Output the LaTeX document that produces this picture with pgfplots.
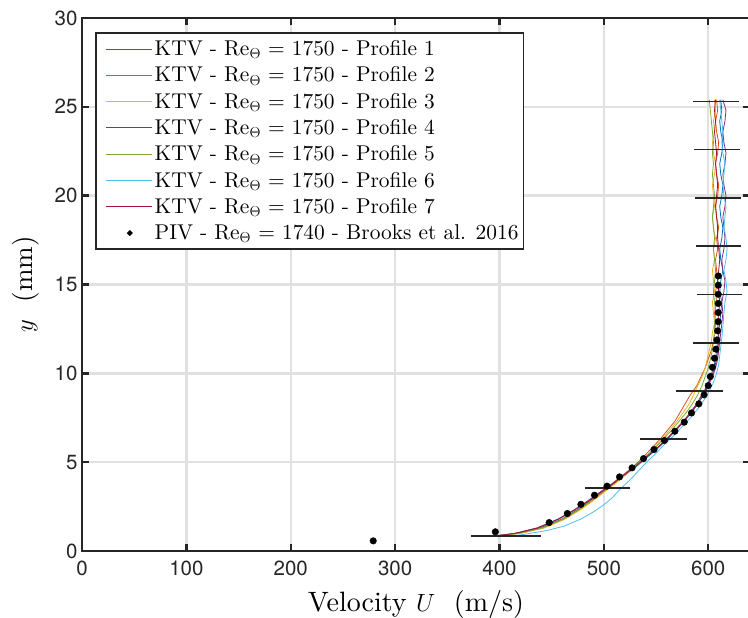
\documentclass[border=0pt]{standalone}
\usepackage{fontspec}
\setmainfont{lmroman10-regular.otf}[ItalicFont=lmroman10-italic.otf, BoldFont=lmroman10-bold.otf]
\setsansfont{TeX Gyre Heros}
\usepackage{pgfplots}
\pgfplotsset{compat=1.18}

\definecolor{c1}{RGB}{0,114,189}
\definecolor{c2}{RGB}{217,83,25}
\definecolor{c3}{RGB}{237,177,32}
\definecolor{c4}{RGB}{126,47,142}
\definecolor{c5}{RGB}{119,172,48}
\definecolor{c6}{RGB}{77,190,238}
\definecolor{c7}{RGB}{162,20,47}
\definecolor{axgray}{RGB}{38,38,38}
\definecolor{gridgray}{RGB}{225,225,225}

\pgfplotsset{
  ktv/.style={line width=0.8pt, mark=none,
    legend image code/.code={\path (0pt,0pt); \draw[##1] (6pt,0pt) -- (52pt,0pt);}},
  pivleg/.style={legend image code/.code={\path (0pt,0pt) (52pt,0pt); \fill[black] (30pt,0pt) circle (1.8pt);}},
}

\begin{document}
\begin{tikzpicture}
\begin{axis}[
  name=ax,
  scale only axis,
  width=668pt, height=533pt,
  xmin=0, xmax=640, ymin=0, ymax=30,
  xtick={0,100,...,600}, ytick={0,5,...,30},
  grid=major, grid style={gridgray, line width=2.4pt},
  axis line style={axgray, line width=2.6pt},
  tick align=inside, major tick length=7pt,
  tick style={axgray, line width=2.4pt},
  /pgf/number format/assume math mode=true,
  tick label style={font=\fontsize{20.5}{24}\selectfont\sffamily, text=axgray},
  xticklabel style={yshift=-6pt},
  yticklabel style={xshift=-1pt},
  xlabel={Velocity $U$\ \ (m/s)},
  ylabel={$y$\ \ (mm)},
  xlabel style={font=\fontsize{28}{32}\selectfont, at={(rel axis cs:0.5,0)}, anchor=center, yshift=-54pt},
  ylabel style={font=\fontsize{27}{32}\selectfont, at={(rel axis cs:0,0.5)}, anchor=center, yshift=56pt},
  legend style={at={(rel axis cs:0.0195,0.974)}, anchor=north west,
    font=\fontsize{21.4}{25}\selectfont, draw=axgray, line width=1.8pt,
    fill=white, inner sep=3pt,
    nodes={minimum height=26.3pt, inner sep=2pt}},
  legend cell align=left,
]
% KTV profiles
\addplot[ktv, c1] coordinates {(396,0.85)(417,1.0)(439,1.3)(460,1.8)(474,2.3)(486,2.8)(498,3.3)(510,3.8)(521,4.3)(532,4.8)(542,5.3)(552,5.8)(561,6.3)(569,6.8)(577,7.3)(584,7.8)(590,8.3)(595,8.8)(599,9.3)(602,9.8)(605,10.3)(607,10.8)(608,11.3)(609,11.8)(610,12.3)(611,12.8)(612,13.4)(613,14.0)(611,14.6)(612,15.2)(614,15.8)(612,16.4)(611,17.0)(613,17.6)(614,18.2)(612,18.8)(611,19.4)(613,20.0)(614,20.6)(612,21.2)(611,21.8)(613,22.4)(614,23.0)(612,23.6)(611,24.2)(613,24.8)(612,25.4)};
\addlegendentry{KTV - Re$_{\Theta}$ = 1750 - Profile 1}
\addplot[ktv, c2] coordinates {(397,0.85)(420,1.0)(442,1.3)(462,1.8)(476,2.3)(488,2.8)(499,3.3)(509,3.8)(519,4.3)(529,4.8)(538,5.3)(546,5.8)(554,6.3)(561,6.8)(568,7.3)(573,7.8)(578,8.3)(583,8.8)(589,9.3)(593,9.8)(597,10.3)(600,10.8)(603,11.3)(605,11.8)(606,12.3)(607,12.8)(606,13.4)(608,14.0)(607,14.6)(609,15.2)(608,15.8)(607,16.4)(609,17.0)(608,17.6)(610,18.2)(608,18.8)(607,19.4)(609,20.0)(610,20.6)(608,21.2)(607,21.8)(609,22.4)(610,23.0)(608,23.6)(607,24.2)(609,24.8)(608,25.4)};
\addlegendentry{KTV - Re$_{\Theta}$ = 1750 - Profile 2}
\addplot[ktv, c3] coordinates {(398,0.85)(421,1.0)(443,1.3)(463,1.8)(477,2.3)(489,2.8)(500,3.3)(511,3.8)(521,4.3)(531,4.8)(540,5.3)(548,5.8)(556,6.3)(563,6.8)(570,7.3)(576,7.8)(582,8.3)(586,8.8)(590,9.3)(594,9.8)(597,10.3)(599,10.8)(601,11.3)(603,11.8)(604,12.3)(606,12.8)(605,13.4)(604,14.0)(606,14.6)(605,15.2)(604,15.8)(606,16.4)(605,17.0)(607,17.6)(605,18.2)(604,18.8)(606,19.4)(605,20.0)(604,20.6)(606,21.2)(607,21.8)(605,22.4)(604,23.0)(606,23.6)(605,24.2)(607,24.8)(606,25.4)};
\addlegendentry{KTV - Re$_{\Theta}$ = 1750 - Profile 3}
\addplot[ktv, c4] coordinates {(396,0.85)(415,1.0)(436,1.3)(456,1.8)(471,2.3)(484,2.8)(496,3.3)(508,3.8)(519,4.3)(530,4.8)(541,5.3)(551,5.8)(560,6.3)(569,6.8)(577,7.3)(584,7.8)(590,8.3)(596,8.8)(600,9.3)(604,9.8)(607,10.3)(609,10.8)(610,11.3)(611,11.8)(612,12.3)(613,12.8)(614,13.4)(613,14.0)(615,14.6)(616,15.2)(614,15.8)(613,16.4)(615,17.0)(616,17.6)(615,18.2)(614,18.8)(616,19.4)(617,20.0)(615,20.6)(614,21.2)(616,21.8)(617,22.4)(615,23.0)(614,23.6)(616,24.2)(617,24.8)(614,25.4)};
\addlegendentry{KTV - Re$_{\Theta}$ = 1750 - Profile 4}
\addplot[ktv, c5] coordinates {(397,0.85)(419,1.0)(441,1.3)(461,1.8)(475,2.3)(487,2.8)(498,3.3)(509,3.8)(520,4.3)(530,4.8)(540,5.3)(549,5.8)(557,6.3)(565,6.8)(572,7.3)(579,7.8)(585,8.3)(590,8.8)(594,9.3)(597,9.8)(600,10.3)(602,10.8)(604,11.3)(605,11.8)(606,12.3)(606,12.8)(607,13.4)(606,14.0)(605,14.6)(606,15.2)(607,15.8)(606,16.4)(605,17.0)(606,17.6)(605,18.2)(604,18.8)(605,19.4)(606,20.0)(605,20.6)(604,21.2)(605,21.8)(604,22.4)(605,23.0)(604,23.6)(603,24.2)(602,24.8)(601,25.4)};
\addlegendentry{KTV - Re$_{\Theta}$ = 1750 - Profile 5}
\addplot[ktv, c6] coordinates {(398,0.8)(420,0.9)(445,1.15)(462,1.4)(478,1.8)(490,2.2)(500,2.6)(508,3.0)(516,3.5)(525,4.0)(533,4.5)(541,5.0)(550,5.5)(558,6.0)(567,6.5)(575,7.0)(583,7.5)(590,8.0)(596,8.5)(601,9.0)(605,9.5)(608,10.0)(610,10.5)(611,11.0)(612,11.5)(613,12.0)(614,12.6)(615,13.4)(616,14.0)(618,14.6)(617,15.2)(615,15.8)(617,16.4)(618,17.0)(617,17.6)(615,18.2)(616,18.8)(617,19.4)(615,20.0)(614,20.6)(615,21.2)(616,21.8)(614,22.4)(613,23.0)(614,23.6)(613,24.2)(612,24.8)(611,25.4)};
\addlegendentry{KTV - Re$_{\Theta}$ = 1750 - Profile 6}
\addplot[ktv, c7] coordinates {(397,0.85)(416,1.0)(437,1.3)(457,1.8)(472,2.3)(485,2.8)(497,3.3)(509,3.8)(520,4.3)(531,4.8)(541,5.3)(551,5.8)(560,6.3)(568,6.8)(576,7.3)(583,7.8)(589,8.3)(594,8.8)(599,9.3)(603,9.8)(606,10.3)(608,10.8)(609,11.3)(610,11.8)(610,12.3)(609,12.8)(610,13.4)(611,14.0)(610,14.6)(609,15.2)(610,15.8)(611,16.4)(610,17.0)(609,17.6)(609,18.2)(608,18.8)(607,19.4)(608,20.0)(609,20.6)(608,21.2)(607,21.8)(608,22.4)(607,23.0)(606,23.6)(607,24.2)(606,24.8)(607,25.4)};
\addlegendentry{KTV - Re$_{\Theta}$ = 1750 - Profile 7}
% error bars
\addplot[forget plot, draw=none, mark=none,
  error bars/.cd, x dir=both, x explicit, error mark=none,
  error bar style={draw=black!85, line width=1.6pt}]
  coordinates {
  (406,0.84) +- (33.5,0)
  (503.5,3.56) +- (22,0)
  (557,6.29) +- (22.4,0)
  (591.5,9.0) +- (22.2,0)
  (607.6,11.71) +- (22,0)
  (611,14.43) +- (21.5,0)
  (610,17.17) +- (21.5,0)
  (609,19.87) +- (22,0)
  (608,22.59) +- (22,0)
  (607.6,25.29) +- (22,0)
  };
% PIV
\addplot[only marks, mark=*, mark size=3.3pt, black, pivleg]
  coordinates {(279,0.57)(396,1.08)(447.6,1.60)(465,2.11)(478,2.63)(491,3.14)(503,3.65)(515,4.17)(527,4.68)(538,5.20)(548,5.71)(558,6.22)(568,6.74)(577,7.25)(584,7.77)(591,8.28)(596,8.79)(600,9.31)(602,9.82)(604,10.34)(606,10.85)(607.4,11.36)(608.3,11.88)(609,12.39)(609.6,12.91)(609.6,13.42)(609.6,13.93)(609.6,14.45)(609.6,14.96)(609.6,15.48)};
\addlegendentry{PIV - Re$_{\Theta}$ = 1740 - Brooks et al. 2016}
\end{axis}
\pgfresetboundingbox
\path[use as bounding box] ([shift={(-82pt,-67pt)}]ax.south west) rectangle ([shift={(666pt,551pt)}]ax.south west);
\end{tikzpicture}
\end{document}
